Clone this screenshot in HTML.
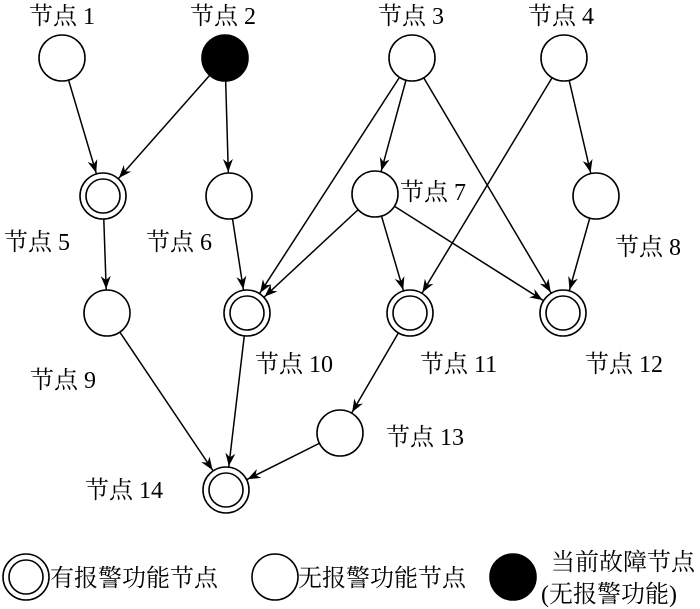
<!DOCTYPE html>
<html><head><meta charset="utf-8"><style>
html,body{margin:0;padding:0;background:#fff;}
svg{display:block;}
text{font-family:"Liberation Serif","Noto Serif CJK SC",serif;font-size:24px;fill:#000;}
</style></head><body>
<svg width="700" height="609" viewBox="0 0 700 609" xmlns="http://www.w3.org/2000/svg">
<defs>
<marker id="a" markerUnits="userSpaceOnUse" markerWidth="60" markerHeight="20" viewBox="-14 -6 60 12" refX="24" refY="0" orient="auto" overflow="visible">
<path d="M0,0 L-13,-5 L-9,0 L-13,5 z" fill="#000"/>
</marker>
</defs>
<g stroke="#000" stroke-width="1.5" marker-end="url(#a)">
<line x1="62" y1="58" x2="103" y2="196"/>
<line x1="225" y1="58" x2="103" y2="196"/>
<line x1="225" y1="58" x2="229" y2="196"/>
<line x1="412" y1="58" x2="247" y2="313"/>
<line x1="412" y1="58" x2="375" y2="194"/>
<line x1="412" y1="58" x2="563" y2="313"/>
<line x1="564" y1="58" x2="410" y2="313"/>
<line x1="564" y1="58" x2="596" y2="196"/>
<line x1="103" y1="196" x2="107" y2="313"/>
<line x1="229" y1="196" x2="247" y2="313"/>
<line x1="375" y1="194" x2="247" y2="313"/>
<line x1="375" y1="194" x2="410" y2="313"/>
<line x1="375" y1="194" x2="563" y2="313"/>
<line x1="596" y1="196" x2="563" y2="313"/>
<line x1="107" y1="313" x2="226" y2="490"/>
<line x1="247" y1="313" x2="226" y2="490"/>
<line x1="410" y1="313" x2="340" y2="433"/>
<line x1="340" y1="433" x2="226" y2="490"/>
</g>
<g stroke="#000" stroke-width="1.6" fill="#fff">
<circle cx="62" cy="58" r="23"/>
<circle cx="225" cy="58" r="23" fill="#000"/>
<circle cx="412" cy="58" r="23"/>
<circle cx="564" cy="58" r="23"/>
<circle cx="103" cy="196" r="23"/><circle cx="103" cy="196" r="17"/>
<circle cx="229" cy="196" r="23"/>
<circle cx="375" cy="194" r="23"/>
<circle cx="596" cy="196" r="23"/>
<circle cx="107" cy="313" r="23"/>
<circle cx="247" cy="313" r="23"/><circle cx="247" cy="313" r="17"/>
<circle cx="410" cy="313" r="23"/><circle cx="410" cy="313" r="17"/>
<circle cx="563" cy="313" r="23"/><circle cx="563" cy="313" r="17"/>
<circle cx="340" cy="433" r="23"/>
<circle cx="226" cy="490" r="23"/><circle cx="226" cy="490" r="17"/>
<circle cx="26" cy="577" r="23"/><circle cx="26" cy="577" r="17"/>
<circle cx="275" cy="577" r="23"/>
<circle cx="513" cy="577" r="23" fill="#000"/>
</g>
<g>
<text x="29" y="24">节点 1</text>
<text x="190" y="24">节点 2</text>
<text x="378" y="24">节点 3</text>
<text x="528" y="24">节点 4</text>
<text x="4" y="250">节点 5</text>
<text x="146" y="250">节点 6</text>
<text x="400" y="200">节点 7</text>
<text x="615" y="255">节点 8</text>
<text x="30" y="388">节点 9</text>
<text x="255" y="372">节点 10</text>
<text x="420" y="372">节点 11</text>
<text x="585" y="372">节点 12</text>
<text x="386" y="445">节点 13</text>
<text x="85" y="498">节点 14</text>
<text x="50" y="586">有报警功能节点</text>
<text x="298" y="586">无报警功能节点</text>
<text x="551" y="570">当前故障节点</text>
<text x="541" y="602">(无报警功能)</text>
</g>
</svg>
</body></html>
